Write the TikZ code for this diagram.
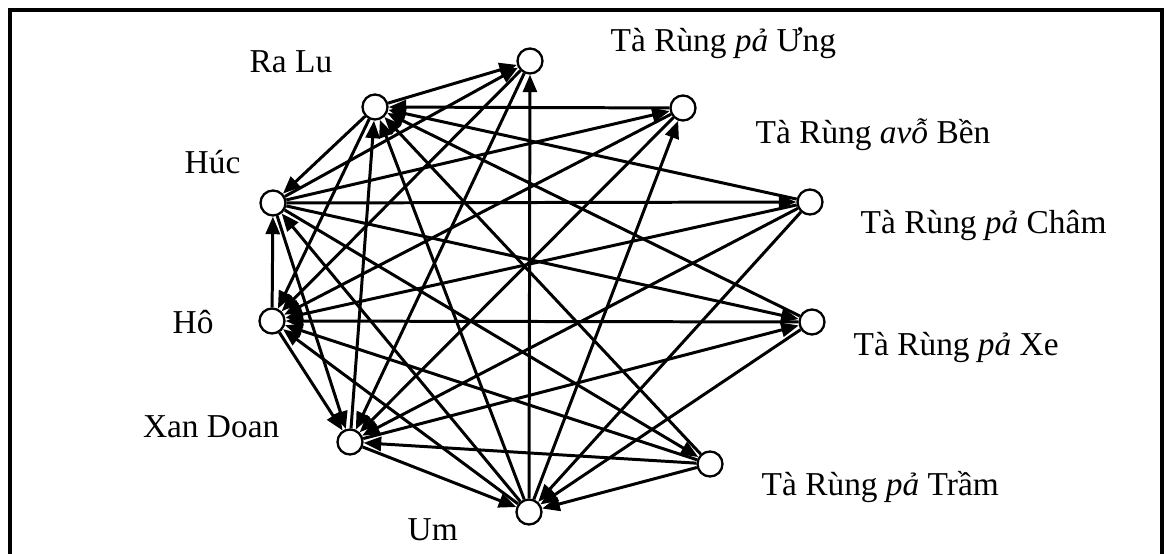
\documentclass[tikz,border=0pt]{standalone}
\usepackage{fontspec}
\setmainfont{Liberation Serif}
\usetikzlibrary{arrows.meta}

\begin{document}
\begin{tikzpicture}[x=0.1mm, y=-0.1mm,
    pt/.style={circle, draw, line width=0.65pt, fill=white, minimum size=2.5mm, inner sep=0pt},
    lab/.style={font=\fontsize{9.5}{11}\selectfont, inner sep=0pt},
    arr/.style={line width=0.85pt, -{Triangle[length=5pt, width=4pt]}}]
    \useasboundingbox (0,0) rectangle (1171,554);

    % Frame
    \draw[line width=1.3pt] (10,600) -- (10,10) -- (1162,10) -- (1162,600);

    % Points
    \node[pt] (ung) at (530,61) {};
    \node[pt] (ralu) at (375,107) {};
    \node[pt] (ben) at (683,108) {};
    \node[pt] (huc) at (273,203) {};
    \node[pt] (cham) at (810,202) {};
    \node[pt] (ho) at (272,321) {};
    \node[pt] (xe) at (812,322) {};
    \node[pt] (doan) at (350,442) {};
    \node[pt] (tram) at (710,464) {};
    \node[pt] (um) at (529,512) {};

    % Names
    \node[lab, anchor=base west] (lung) at (610,52) {Tà Rùng \textit{pả} Ưng};
    \node[lab, anchor=base west] (lralu) at (249,73) {Ra Lu};
    \node[lab, anchor=base west] (lben) at (755,144) {Tà Rùng \textit{avỗ} Bền};
    \node[lab, anchor=base west] (lhuc) at (184,174) {Húc};
    \node[lab, anchor=base west] (lcham) at (860,234) {Tà Rùng \textit{pả} Châm};
    \node[lab, anchor=base west] (lho) at (172,334) {Hô};
    \node[lab, anchor=base west] (lxe) at (853,355) {Tà Rùng \textit{pả} Xe};
    \node[lab, anchor=base east] (ldoan) at (280,437) {Xan Doan};
    \node[lab, anchor=base west] (ltram) at (761,495) {Tà Rùng \textit{pả} Trầm};
    \node[lab, anchor=base west] (lum) at (407,540) {Um};

    % Left group
    \draw[arr] (ralu) -- (huc);
    \draw[arr] (ralu) -- (ho);
    \draw[arr] (doan) -- (ralu);
    \draw[arr] (um) -- (ralu);
    \draw[arr] (ho) -- (huc);
    \draw[arr] (um) -- (huc);
    \draw[arr] (huc) -- (doan);
    \draw[arr] (ho) -- (doan);
    \draw[arr] (um) -- (ho);
    \draw[arr] (doan) -- (um);

    % Ung
    \draw[arr] (ralu) -- (ung);
    \draw[arr] (huc) -- (ung);
    \draw[arr] (um) -- (ung);
    \draw[arr] (ung) -- (ho);
    \draw[arr] (ung) -- (doan);

    % Ben
    \draw[arr] (ben) -- (ralu);
    \draw[arr] (huc) -- (ben);
    \draw[arr] (um) -- (ben);
    \draw[arr] (ben) -- (ho);
    \draw[arr] (ben) -- (doan);

    % Cham
    \draw[arr] (cham) -- (ralu);
    \draw[arr] (huc) -- (cham);
    \draw[arr] (cham) -- (ho);
    \draw[arr] (cham) -- (doan);
    \draw[arr] (cham) -- (um);

    % Xe
    \draw[arr] (xe) -- (ralu);
    \draw[arr] (huc) -- (xe);
    \draw[arr] (xe) -- (ho);
    \draw[arr] (doan) -- (xe);
    \draw[arr] (xe) -- (um);

    % Tram
    \draw[arr] (tram) -- (ralu);
    \draw[arr] (huc) -- (tram);
    \draw[arr] (tram) -- (ho);
    \draw[arr] (tram) -- (doan);
    \draw[arr] (tram) -- (um);
\end{tikzpicture}
\end{document}
